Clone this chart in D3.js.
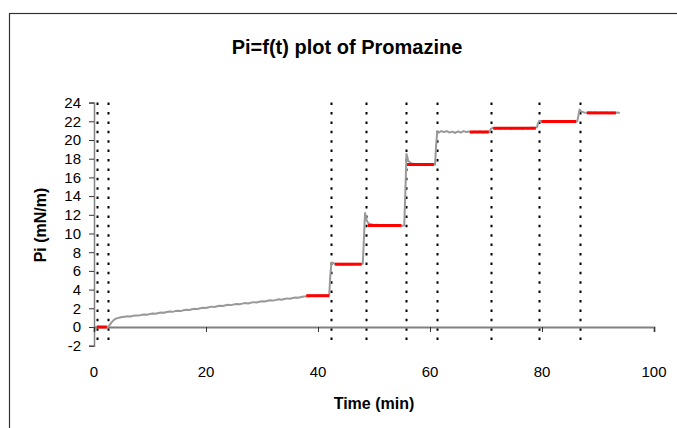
<!doctype html>
<html>
<head>
<meta charset="utf-8">
<script src="https://cdn.jsdelivr.net/npm/d3@7/dist/d3.min.js"></script>
<style>
  body { margin: 0; background: #fff; }
  text { font-family: "Liberation Sans", Arial, sans-serif; fill: #000; }
</style>
</head>
<body>
<svg id="chart"></svg>
<script>
// surface pressure trace (min, mN/m)
var timeMin = [0.3,0.8,1.3,1.8,2.3,2.6,2.9,3.2,3.6,4.0,4.5,5,5.5,6,6.5,7,7.5,8,8.5,9,9.5,10,10.5,11,11.5,12,12.5,13,13.5,14,14.5,15,15.5,16,16.5,17,17.5,18,18.5,19,19.5,20,20.5,21,21.5,22,22.5,23,23.5,24,24.5,25,25.5,26,26.5,27,27.5,28,28.5,29,29.5,30,30.5,31,31.5,32,32.5,33,33.5,34,34.5,35,35.5,36,36.5,37,37.5,38,38.5,39,39.5,40,40.5,41,41.5,42,
  42.2,42.4,42.7,43,43.5,44,44.5,45,45.5,46,46.5,47,47.5,48,
  48.2,48.4,48.7,49,49.5,50,50.5,51,51.5,52,52.5,53,53.5,54,54.5,55,55.4,
  55.6,55.8,56.1,56.5,57,57.5,58,58.5,59,59.5,60,60.5,60.9,
  61.1,61.3,61.6,62,62.5,63,63.5,64,64.5,65,65.5,66,66.5,67,67.5,68,68.5,69,69.5,70,70.6,
  70.9,71.2,71.5,72,72.5,73,73.5,74,74.5,75,75.5,76,76.5,77,77.5,78,78.5,79.1,
  79.3,79.5,80,80.5,81,81.5,82,82.5,83,83.5,84,84.5,85,85.5,86,86.3,
  86.5,86.7,87,87.5,88,88.5,89,89.5,90,90.5,91,91.5,92,92.5,93,93.5,93.9];
var piVal = [0,0.02,-0.02,0.01,0,0.05,0.3,0.55,0.78,0.92,1.0,1.06,1.1,1.14,1.12,1.2,1.24,1.22,1.3,1.33,1.31,1.4,1.44,1.42,1.5,1.56,1.52,1.6,1.66,1.62,1.7,1.74,1.7,1.8,1.84,1.82,1.9,1.95,1.92,2.0,2.06,2.03,2.12,2.18,2.14,2.22,2.28,2.25,2.32,2.38,2.34,2.42,2.47,2.44,2.5,2.56,2.52,2.6,2.66,2.62,2.7,2.75,2.72,2.8,2.86,2.82,2.9,2.96,2.92,3.0,3.06,3.02,3.1,3.16,3.12,3.2,3.26,3.3,3.28,3.34,3.3,3.36,3.32,3.38,3.34,3.36,
  5.5,6.9,6.85,6.75,6.68,6.72,6.66,6.7,6.65,6.71,6.68,6.74,6.7,6.76,
  9.5,12.2,11.4,11.1,10.98,10.9,10.95,10.86,10.9,10.84,10.88,10.82,10.86,10.8,10.85,10.82,10.86,
  14.5,18.5,17.8,17.55,17.45,17.4,17.35,17.42,17.3,17.38,17.32,17.4,17.36,
  19.5,20.9,20.8,20.95,20.85,20.95,20.8,20.9,20.75,20.92,20.8,20.95,20.85,20.9,20.8,20.88,20.82,20.9,20.8,20.88,20.85,
  21.2,21.3,21.22,21.28,21.2,21.3,21.22,21.27,21.2,21.3,21.24,21.28,21.2,21.3,21.25,21.32,21.28,21.35,
  21.8,22.05,21.98,22.02,21.95,22.0,21.94,22.03,21.96,22.0,21.93,22.02,21.97,22.01,21.96,22.0,
  22.6,23.25,23.05,22.95,22.9,22.95,22.88,22.94,22.86,22.93,22.88,22.95,22.87,22.92,22.88,22.94,22.9];

// flat fits (red)
var fitStart = [0.5,37.9,43.0,48.9,55.9,67.1,71.3,79.9,88.0];
var fitEnd   = [2.3,42.0,47.8,54.9,60.7,70.5,78.9,86.1,93.2];
var fitLevel = [0,3.35,6.72,10.86,17.38,20.86,21.26,21.98,22.9];

// injection marks (dotted)
var injectTimes = [0.5,2.55,42.4,48.65,55.8,61.3,70.9,79.5,86.7];

var xTicks = [0,20,40,60,80,100];
var yTicks = [-2,0,2,4,6,8,10,12,14,16,18,20,22,24];

var width = 677, height = 428;
var svg = d3.select("#chart").attr("width", width).attr("height", height);

// frame
svg.append("rect").attr("x", 9.5).attr("y", 13.5).attr("width", 700).attr("height", 500)
   .attr("fill", "none").attr("stroke", "#333").attr("stroke-width", 1.2);

var x = d3.scaleLinear().domain([0,100]).range([94,654]);
var y = d3.scaleLinear().domain([-2,24]).range([345.7,102.6]);

// dotted verticals
svg.selectAll("line.inj").data(injectTimes).enter().append("line")
   .attr("class","inj")
   .attr("x1", d => Math.round(x(d)) + 0.5).attr("x2", d => Math.round(x(d)) + 0.5)
   .attr("y1", y(24)).attr("y2", y(-2))
   .attr("stroke", "#000").attr("stroke-width", 2)
   .attr("stroke-dasharray", "2.5,6.9");

// y axis
var yaxis = d3.axisLeft(y).tickValues(yTicks).tickSize(5).tickPadding(8).tickFormat(d => String(d));
var gy = svg.append("g").attr("transform", "translate(94,0)").call(yaxis);
gy.select(".domain").attr("stroke", "#808080").attr("stroke-width", 1.5);
gy.selectAll(".tick line").attr("stroke", "#333");
gy.selectAll(".tick text").style("font-size", "15px").attr("font-family", null);

// x axis at y = 0
var xaxis = d3.axisBottom(x).tickValues(xTicks).tickSize(5).tickFormat("");
var gx = svg.append("g").attr("transform", "translate(0," + y(0) + ")").call(xaxis);
gx.select(".domain").attr("stroke", "#808080").attr("stroke-width", 2);
gx.selectAll(".tick line").attr("stroke", "#333");

// x labels sit below the plot
svg.selectAll("text.xl").data(xTicks).enter().append("text")
   .attr("class","xl")
   .attr("x", d => x(d)).attr("y", 376.5)
   .attr("text-anchor","middle")
   .style("font-size","15px")
   .text(d => d);

// trace
var pts = timeMin.map((t,i) => [t, piVal[i]]);
var line = d3.line().x(d => x(d[0])).y(d => y(d[1]));
svg.append("path").datum(pts).attr("d", line)
   .attr("fill","none").attr("stroke","#999").attr("stroke-width", 2).attr("stroke-linejoin","round");

// fits
svg.selectAll("line.fit").data(fitLevel).enter().append("line")
   .attr("class","fit")
   .attr("x1", (d,i) => x(fitStart[i])).attr("x2", (d,i) => x(fitEnd[i]))
   .attr("y1", d => y(d)).attr("y2", d => y(d))
   .attr("stroke","#ff0000").attr("stroke-width", 3);

// titles
svg.append("text").attr("x", 347).attr("y", 54).attr("text-anchor","middle")
   .style("font-size","20px").style("font-weight","bold")
   .text("Pi=f(t) plot of Promazine");
svg.append("text").attr("x", 374).attr("y", 409).attr("text-anchor","middle")
   .style("font-size","16px").style("font-weight","bold")
   .text("Time (min)");
svg.append("text").attr("transform","translate(46,225) rotate(-90)").attr("text-anchor","middle")
   .style("font-size","16px").style("font-weight","bold")
   .text("Pi (mN/m)");
</script>
</body>
</html>
